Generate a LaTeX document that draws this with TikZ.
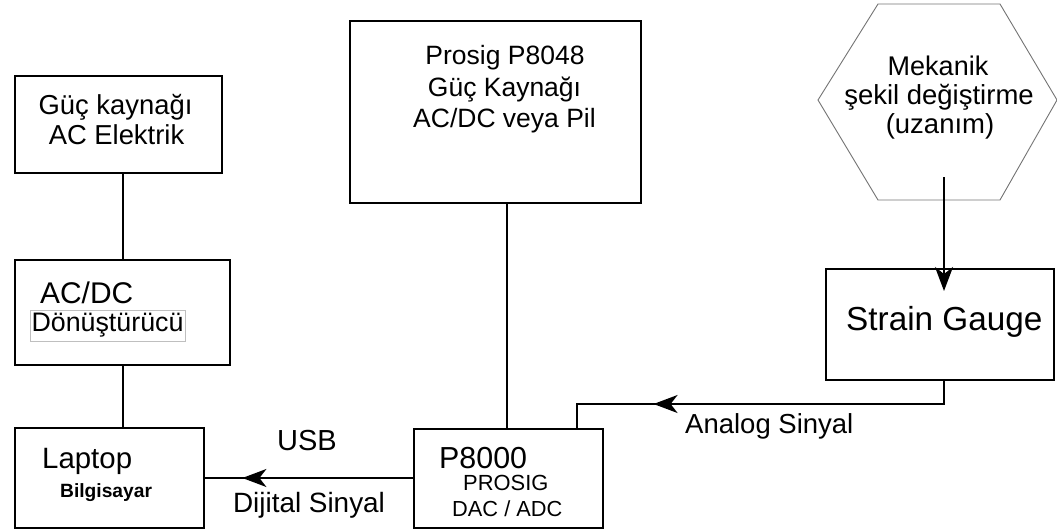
\documentclass[tikz,border=0pt]{standalone}
\usepackage{fontspec}
\setmainfont{Liberation Sans}
\usetikzlibrary{arrows.meta,decorations.markings}
\tikzset{
  box/.style={draw=black, line width=1.9pt, inner sep=0pt},
  conn/.style={draw=black, line width=1.8pt},
  txt/.style={inner sep=0pt, anchor=base},
  txtw/.style={inner sep=0pt, anchor=base west},
  tipleft/.style={decoration={markings, mark=at position #1 with {\arrow{Stealth[length=24pt,width=18pt,inset=7pt]}}}, postaction={decorate}},
}
\newcommand{\fs}[1]{\fontsize{#1}{#1}\selectfont}
\begin{document}
\begin{tikzpicture}[x=1pt,y=-1pt]
\useasboundingbox (0,0) rectangle (1057,532);
% boxes
\node[box, minimum width=207pt, minimum height=97pt] (gk) at (118.5,124.5) {};
\node[box, minimum width=215pt, minimum height=105pt] (acdc) at (122.5,312.5) {};
\node[box, minimum width=189pt, minimum height=100pt] (lap) at (109.5,478) {};
\node[box, minimum width=291pt, minimum height=182pt] (p48) at (495.5,112) {};
\node[box, minimum width=189pt, minimum height=99pt] (p80) at (508.5,478.5) {};
\node[box, minimum width=228pt, minimum height=111pt] (sg) at (940,324.5) {};
% hexagon
\draw[draw=black!55, line width=0.9pt] (878,4) -- (1000,4) -- (1057,100) -- (1000,200) -- (878,200) -- (818,100) -- cycle;
\node[inner sep=0pt, minimum width=150pt, minimum height=190pt] (hex) at (938,102) {};
% texts
\node[txt] (t1) at (115.5,115) {\fs{27.4}Güç kaynağı};
\node[txt] (t2) at (116.5,145) {\fs{27.4}AC Elektrik};
\node[txtw] (t3) at (40,303) {\fs{29.9}AC/DC};
\node[draw=black!25, line width=0.6pt, inner sep=0pt, minimum width=155pt, minimum height=31pt] (t4) at (107.5,325.5) {\fs{26.8}Dönüştürücü};
\node[txtw] (t5) at (42,468) {\fs{29.4}Laptop};
\node[txtw] (t6) at (60,497) {\fs{19.2}\bfseries Bilgisayar};
\node[txt] (t7) at (307,450) {\fs{29}USB};
\node[txt] (t8) at (309,512) {\fs{27.9}Dijital Sinyal};
\node[txt] (t9) at (505,65) {\fs{26.5}Prosig P8048};
\node[txt] (t10) at (504.5,97) {\fs{26.5}Güç Kaynağı};
\node[txt] (t11) at (504.5,128) {\fs{26.5}AC/DC veya Pil};
\node[txtw] (t12) at (439,468) {\fs{30.4}P8000};
\node[txtw] (t13) at (463,490) {\fs{21.9}PROSIG};
\node[txtw] (t14) at (452,516) {\fs{21.8}DAC / ADC};
\node[txtw] (t15) at (685,433) {\fs{27.5}Analog Sinyal};
\node[txt] (t16) at (938,76) {\fs{27}Mekanik};
\node[txt] (t17) at (939,105) {\fs{27.5}şekil değiştirme};
\node[txt] (t18) at (940,133) {\fs{27.5}(uzanım)};
\node[txtw] (t19) at (846,330) {\fs{33.3}Strain Gauge};
% connectors
\draw[conn] (gk.south -| 123,0) -- (acdc.north -| 123,0);
\draw[conn] (acdc.south -| 123,0) -- (lap.north -| 123,0);
\draw[conn] (p48.south -| 507,0) -- (p80.north -| 507,0);
\draw[conn, tipleft=0.82] (p80.west |- lap.east) -- (lap.east);
\coordinate (bend) at (577,404);
\draw[conn, tipleft=0.757] (sg.south -| 944,0) |- (bend) -- (bend |- p80.north);
\coordinate (hexout) at (944,177);
\coordinate (sgin) at (944,291);
\draw[conn, -{Stealth[length=24pt,width=18pt,inset=7pt]}] (hexout) -- (sgin);
\end{tikzpicture}
\end{document}
